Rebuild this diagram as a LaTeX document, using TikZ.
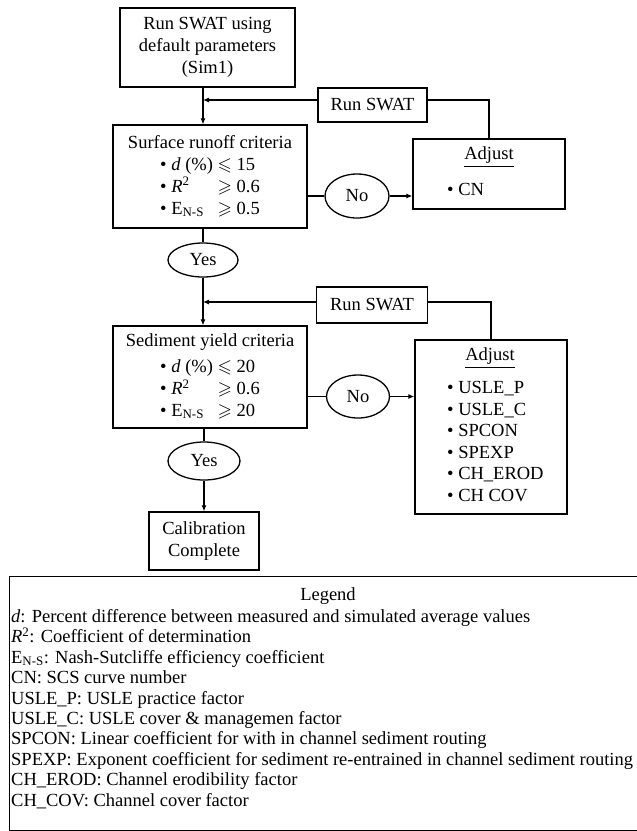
\documentclass[tikz,border=0pt]{standalone}
\usepackage{amssymb}
\usepackage{fontspec}
\setmainfont{Liberation Serif}
\usetikzlibrary{positioning,arrows.meta,shapes.geometric}
\tikzset{
  flowbox/.style={draw,line width=1.3pt,align=center,inner sep=0pt},
  yesno/.style={ellipse,draw,line width=1.3pt,inner sep=0pt},
  conn/.style={line width=1.1pt},
  arr/.style={conn,-{Latex[length=6pt,width=5pt]}},
}

\begin{document}
\begin{tikzpicture}[x=1pt,y=-1pt,font=\fontsize{18.5}{22}\selectfont]
\useasboundingbox (0,0) rectangle (637,831);

% Main column
\node[flowbox,minimum width=175pt,minimum height=79pt] (sim1) at (207.5,47.5) {Run SWAT using\\default parameters\\(Sim1)};
\node[flowbox,minimum width=194pt,minimum height=103pt] (surf) at (210,176.5) {Surface runoff criteria\\[5pt]
\begin{tabular}{@{}l@{\ }l@{\ }l@{}}
\textbullet & \textit{d} (\%) & $\leqslant$ 15\\
\textbullet & \textit{R}\textsuperscript{2} & $\geqslant$ 0.6\\
\textbullet & E\textsubscript{N-S} & $\geqslant$ 0.5
\end{tabular}\\[-4pt]};
\node[yesno,minimum width=70pt,minimum height=34pt] (yes1) at (203,260) {Yes};
\node[flowbox,minimum width=194pt,minimum height=102pt] (sed) at (210,377) {Sediment yield criteria\\[5pt]
\begin{tabular}{@{}l@{\ }l@{\ }l@{}}
\textbullet & \textit{d} (\%) & $\leqslant$ 20\\
\textbullet & \textit{R}\textsuperscript{2} & $\geqslant$ 0.6\\
\textbullet & E\textsubscript{N-S} & $\geqslant$ 20
\end{tabular}\\[-4pt]};
\node[yesno,minimum width=72pt,minimum height=38pt] (yes2) at (204,461) {Yes};
\node[flowbox,minimum width=110pt,minimum height=58pt] (calib) at (204,541) {Calibration\\Complete};

% Right column
\node[flowbox,minimum width=109pt,minimum height=34pt] (run1) at (372.5,105) {Run SWAT};
\node[yesno,minimum width=64pt,minimum height=44pt] (no1) at (357,196) {No};
\node[flowbox,minimum width=152pt,minimum height=70pt] (adj1) at (489,174) {};
\node (adj1t) at (489,157) {\underline{Adjust}};
\node[anchor=west,align=left,inner sep=0pt] (adj1l) at (447,189) {\textbullet\ CN};

\node[flowbox,minimum width=111pt,minimum height=36pt] (run2) at (372,305) {Run SWAT};
\node[yesno,minimum width=63pt,minimum height=43pt] (no2) at (358,396.5) {No};
\node[flowbox,minimum width=152pt,minimum height=174pt] (adj2) at (491,427) {};
\node (adj2t) at (490,358) {\underline{Adjust}};
\node[anchor=west,align=left,inner sep=0pt,font=\fontsize{18.5}{21.5}\selectfont] (adj2l) at (447,441.5) {\textbullet\ USLE\_P\\\textbullet\ USLE\_C\\\textbullet\ SPCON\\\textbullet\ SPEXP\\\textbullet\ CH\_EROD\\\textbullet\ CH COV};

% Connectors
\coordinate (j1) at (203,100);
\coordinate (j2) at (203,302);
\draw[conn] (sim1.south -| j1) -- (j1);
\draw[arr] (j1) -- (surf.north -| j1);
\draw[arr] (run1.west |- j1) -- (j1);
\draw[conn] (adj1.north) |- (j1 -| run1.east);
\draw[conn] (surf.east |- no1) -- (no1.west);
\draw[arr] (no1.east) -- (adj1.west |- no1);
\draw[conn] (surf.south -| yes1) -- (yes1.north);
\draw[conn] (yes1.south) -- (j2);
\draw[arr] (j2) -- (sed.north -| j2);
\draw[arr] (run2.west |- j2) -- (j2);
\draw[conn] (adj2.north) |- (j2 -| run2.east);
\draw[conn] (sed.east |- no2) -- (no2.west);
\draw[arr] (no2.east) -- (adj2.west |- no2);
\draw[conn] (sed.south -| yes2) -- (yes2.north);
\draw[arr] (yes2.south) -- (calib.north);

% Legend
\node[flowbox,anchor=north west,minimum width=630pt,minimum height=254pt] (legend) at (9,576) {};
\node (legt) at (328,596) {Legend};
\node[anchor=west,align=left,inner sep=0pt,font=\fontsize{18.5}{20.4}\selectfont] (legl) at (11,709) {%
\textit{d}: Percent difference between measured and simulated average values\\
\textit{R}\textsuperscript{2}: Coefficient of determination\\
E\textsubscript{N-S}: Nash-Sutcliffe efficiency coefficient\\
CN: SCS curve number\\
USLE\_P: USLE practice factor\\
USLE\_C: USLE cover \& managemen factor\\
SPCON: Linear coefficient for with in channel sediment routing\\
SPEXP: Exponent coefficient for sediment re-entrained in channel sediment routing\\
CH\_EROD: Channel erodibility factor\\
CH\_COV: Channel cover factor};
\end{tikzpicture}
\end{document}
